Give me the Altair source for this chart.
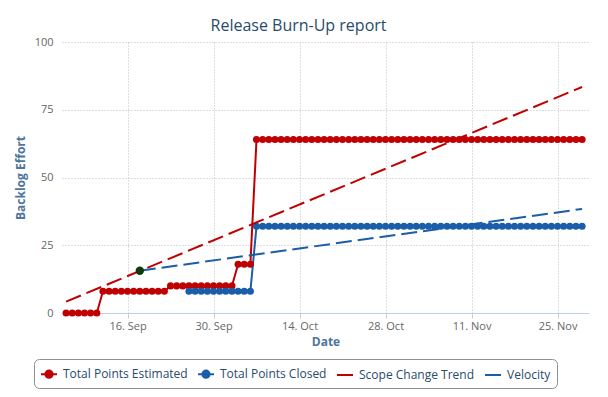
import altair as alt
import pandas as pd

FONT = "Open Sans"

# ---- data ----
series_names = ["Total Points Estimated", "Total Points Closed", "Scope Change Trend", "Velocity"]
series_colors = ["#c00000", "#1a5da8", "#c00000", "#1a5da8"]

estimated_start = "2013-09-06"
estimated_values = [0] * 6 + [8] * 11 + [10] * 11 + [18] * 3 + [64] * 54

closed_start = "2013-09-26"
closed_values = [8] * 11 + [32] * 54

scope_dates = ["2013-09-06T00:00:00", "2013-11-29T00:00:00"]
scope_values = [4.2, 83.4]

velocity_dates = ["2013-09-18T00:00:00", "2013-11-29T00:00:00"]
velocity_values = [15.6, 38.4]

start_point_date = ["2013-09-18T00:00:00"]
start_point_value = [15.6]

y_ticks = [0, 25, 50, 75, 100]
x_tick_days = [(9, 16), (9, 30), (10, 14), (10, 28), (11, 11), (11, 25)]

# ---- tables ----
est = pd.DataFrame({
    "date": pd.date_range(estimated_start, periods=len(estimated_values), freq="D"),
    "value": estimated_values,
    "series": series_names[0],
})
clo = pd.DataFrame({
    "date": pd.date_range(closed_start, periods=len(closed_values), freq="D"),
    "value": closed_values,
    "series": series_names[1],
})
steps = pd.concat([est, clo], ignore_index=True)
steps["date"] = steps["date"].dt.strftime("%Y-%m-%dT%H:%M:%S")

trends = pd.concat([
    pd.DataFrame({"date": scope_dates, "value": scope_values, "series": series_names[2]}),
    pd.DataFrame({"date": velocity_dates, "value": velocity_values, "series": series_names[3]}),
], ignore_index=True)

dot = pd.DataFrame({"date": start_point_date, "value": start_point_value})

# ---- scales / axes ----
grid_color = "#bdbdbd"
x_scale = alt.Scale(domain=[alt.DateTime(year=2013, month=9, date=5, hours=8),
                            alt.DateTime(year=2013, month=11, date=30, hours=3)])
x_axis = alt.Axis(
    values=[alt.DateTime(year=2013, month=m, date=d) for m, d in x_tick_days],
    format="%d. %b", labelFont=FONT, labelFontSize=11, labelColor="#666666",
    labelPadding=2, labelFlush=False, tickSize=5, tickColor="#C0D0E0",
    domainColor="#C0D0E0", grid=True, gridColor=grid_color, gridDash=[1, 2],
    title="Date", titleFont=FONT, titleFontSize=12, titleFontWeight="bold",
    titleColor="#4d759e", titleY=32, titleBaseline="alphabetic",
)
y_scale = alt.Scale(domain=[0, 100], nice=False)
y_axis = alt.Axis(
    values=y_ticks, labelFont=FONT, labelFontSize=11, labelColor="#666666",
    labelPadding=9, ticks=False, domain=False, grid=True, gridColor=grid_color,
    gridDash=[1, 2], title="Backlog Effort", titleFont=FONT, titleFontSize=12,
    titleFontWeight="bold", titleColor="#4d759e", titleAngle=270, titleX=-35,
    titleY=135.5, titleAlign="center", titleBaseline="bottom",
)

X = alt.X("date:T", scale=x_scale, axis=x_axis)
Y = alt.Y("value:Q", scale=y_scale, axis=y_axis)

marker_path = ("M-1,0L1,0"
               "M-0.45,0A0.45,0.45,0,1,1,0.45,0A0.45,0.45,0,1,1,-0.45,0"
               "M-0.2,0A0.2,0.2,0,1,1,0.2,0A0.2,0.2,0,1,1,-0.2,0")
line_path = "M-1,0L1,0"


def color_scale():
    return alt.Scale(domain=series_names, range=series_colors)


step_lines = alt.Chart(steps).mark_line(strokeWidth=2).encode(
    x=X, y=Y, color=alt.Color("series:N", scale=color_scale(), legend=None),
    detail="series:N",
)
step_points = alt.Chart(steps).mark_circle(size=50, opacity=1).encode(
    x=X, y=Y, color=alt.Color("series:N", scale=color_scale(), legend=None),
)
trend_lines = alt.Chart(trends).mark_line(strokeWidth=2, strokeDash=[16, 6]).encode(
    x=X, y=Y, color=alt.Color("series:N", scale=color_scale(), legend=None),
    detail="series:N",
)
start_dot = alt.Chart(dot).mark_circle(size=70, opacity=1, color="#0b3a0b").encode(x=X, y=Y)

legend = alt.Legend(
    title=None, orient="none", legendX=-28, legendY=317, direction="horizontal",
    symbolSize=256, symbolStrokeWidth=2, symbolOffset=0,
    labelFont=FONT, labelFontSize=12, labelColor="#274b6d", labelOffset=5,
    labelLimit=400, columnPadding=6, padding=6, strokeColor="#909090",
    cornerRadius=5, fillColor="white",
)
legend_layer = alt.Chart(steps).mark_point(filled=False, opacity=1).encode(
    x=X, y=Y,
    color=alt.Color("series:N", scale=color_scale(), legend=legend),
    shape=alt.Shape("series:N", scale=alt.Scale(domain=series_names,
                    range=[marker_path, marker_path, line_path, line_path]), legend=legend),
).transform_filter("false")

chart = alt.layer(step_lines, step_points, trend_lines, start_dot, legend_layer).resolve_scale(
    color="independent", shape="independent"
).resolve_legend(color="independent", shape="independent").properties(
    width=527, height=271,
    title=alt.TitleParams("Release Burn-Up report", font=FONT, fontSize=16, color="#274b6d",
                          fontWeight="normal", anchor="middle", frame="group", dx=-27, dy=2),
    padding={"left": 54, "top": 34, "right": 11, "bottom": 76},
    autosize=alt.AutoSizeParams(type="none"),
).configure_view(stroke=None)

chart.save("out.html", embed_options={"renderer": "svg", "actions": False})
